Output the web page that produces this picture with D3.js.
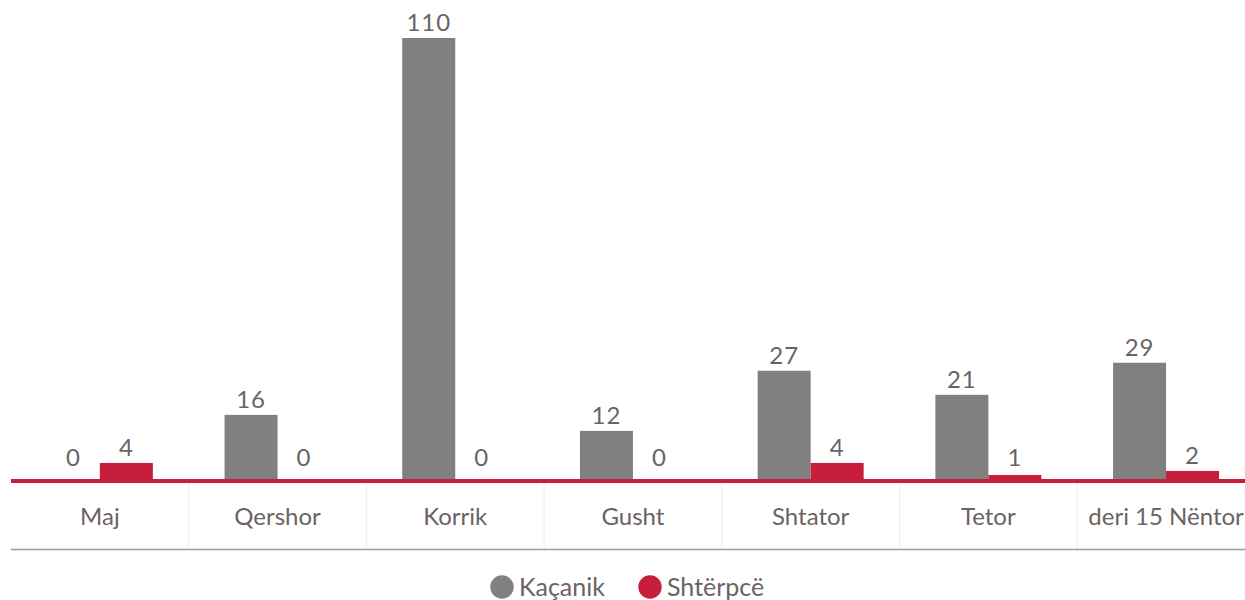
<!DOCTYPE html>
<html>
<head>
<meta charset="utf-8">
<script src="https://cdnjs.cloudflare.com/ajax/libs/d3/7.8.5/d3.min.js"></script>
<style>
  html, body { margin: 0; background: #fff; }
  svg { display: block; font-family: Lato, "Open Sans", sans-serif; }
  .val, .cat, .leg { fill: #6b6363; }
</style>
</head>
<body>
<svg id="chart" width="1245" height="600"></svg>
<script>
var months = ["Maj", "Qershor", "Korrik", "Gusht", "Shtator", "Tetor", "deri 15 Nëntor"];
var kacanik = [0, 16, 110, 12, 27, 21, 29];
var shterpce = [4, 0, 0, 0, 4, 1, 2];
var seriesNames = ["Kaçanik", "Shtërpcë"];
var seriesColors = ["#808080", "#c61e3c"];

var svg = d3.select("#chart");
var plotLeft = 11, bandW = 177.7, base = 479, plotTop = 38;

var x = d3.scaleBand().domain(months).range([plotLeft, plotLeft + bandW * months.length]).padding(0);
var xs = d3.scaleBand().domain(seriesNames).range([-53, 53]).padding(0);
var y = d3.scaleLinear().domain([0, 110]).range([base, plotTop]);

var rows = months.map(function (m, i) {
  return { month: m, vals: [kacanik[i], shterpce[i]] };
});

// separators below the axis
svg.selectAll("line.sep")
  .data(months.slice(1))
  .enter().append("line")
  .attr("x1", function (d) { return x(d); })
  .attr("x2", function (d) { return x(d); })
  .attr("y1", base + 4).attr("y2", 549)
  .attr("stroke", "#ececec").attr("stroke-width", 1);

// bottom rule
svg.append("line")
  .attr("x1", plotLeft).attr("x2", 1245)
  .attr("y1", 549.5).attr("y2", 549.5)
  .attr("stroke", "#9a9a9a").attr("stroke-width", 1.5);

var groups = svg.selectAll("g.grp")
  .data(rows)
  .enter().append("g")
  .attr("transform", function (d) { return "translate(" + (x(d.month) + x.bandwidth() / 2) + ",0)"; });

groups.selectAll("rect")
  .data(function (d) { return d.vals.map(function (v, j) { return { v: v, s: seriesNames[j], c: seriesColors[j] }; }); })
  .enter().append("rect")
  .attr("x", function (d) { return xs(d.s); })
  .attr("width", xs.bandwidth())
  .attr("y", function (d) { return y(d.v); })
  .attr("height", function (d) { return base - y(d.v); })
  .attr("fill", function (d) { return d.c; });

groups.selectAll("text.val")
  .data(function (d) { return d.vals.map(function (v, j) { return { v: v, s: seriesNames[j] }; }); })
  .enter().append("text")
  .attr("class", "val")
  .attr("x", function (d) { return xs(d.s) + xs.bandwidth() / 2; })
  .attr("y", function (d) { return Math.min(y(d.v) - 7, 466); })
  .attr("text-anchor", "middle")
  .attr("font-size", 24)
  .attr("letter-spacing", 1)
  .text(function (d) { return d.v; });

// red baseline
svg.append("rect")
  .attr("x", plotLeft).attr("width", 1245 - plotLeft)
  .attr("y", base).attr("height", 4)
  .attr("fill", seriesColors[1]);

// category labels
svg.selectAll("text.cat")
  .data(months)
  .enter().append("text")
  .attr("class", "cat")
  .attr("x", function (d) { return x(d) + x.bandwidth() / 2; })
  .attr("y", 525)
  .attr("text-anchor", "middle")
  .attr("font-size", 24)
  .text(function (d) { return d; });

// legend
var legX = [502, 650];
var leg = svg.selectAll("g.leg")
  .data(seriesNames)
  .enter().append("g")
  .attr("transform", function (d, i) { return "translate(" + legX[i] + ",587)"; });
leg.append("circle").attr("r", 11.7).attr("fill", function (d, i) { return seriesColors[i]; });
leg.append("text")
  .attr("class", "leg")
  .attr("x", 17).attr("y", 9)
  .attr("font-size", 25)
  .text(function (d) { return d; });
</script>
</body>
</html>
